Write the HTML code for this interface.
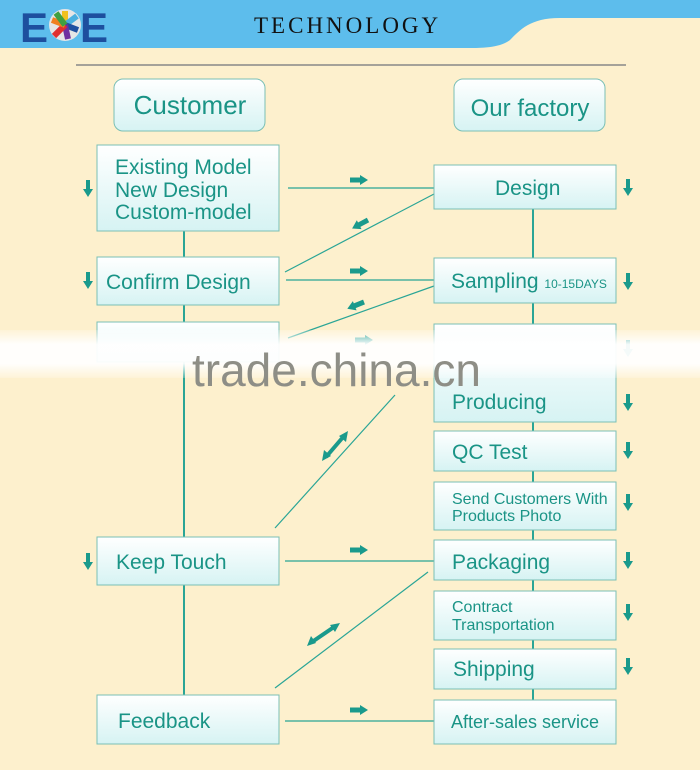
<!DOCTYPE html>
<html><head><meta charset="utf-8"><style>
html,body{margin:0;padding:0;width:700px;height:770px;overflow:hidden;background:#fdf0cd}
svg{display:block}
text{font-family:"Liberation Sans","DejaVu Sans",sans-serif;fill:#1a9486}
</style></head><body>
<svg width="700" height="770" viewBox="0 0 700 770" xmlns="http://www.w3.org/2000/svg">
<defs>
<linearGradient id="g" x1="0" y1="0" x2="0" y2="1"><stop offset="0" stop-color="#ffffff"/><stop offset="1" stop-color="#d6f3f3"/></linearGradient>
<linearGradient id="wm" x1="0" y1="0" x2="0" y2="1"><stop offset="0" stop-color="#fff" stop-opacity="0.2"/><stop offset="0.3" stop-color="#fff" stop-opacity="0.95"/><stop offset="0.7" stop-color="#fff" stop-opacity="0.95"/><stop offset="1" stop-color="#fff" stop-opacity="0.2"/></linearGradient>
<g id="ar"><rect x="0" y="-2.5" width="11" height="5" fill="#1a9a8c"/><polygon points="10,-5 18,0 10,5" fill="#1a9a8c"/></g>
<g id="dn"><rect x="-2" y="0" width="4" height="11" fill="#1a9a8c"/><polygon points="-5,9 5,9 0,17" fill="#1a9a8c"/></g>
</defs>
<rect width="700" height="770" fill="#fdf0cd"/>
<path d="M0 0H700V18H560C530 18 520 30 510 40C500 48 480 48 470 48H0Z" fill="#5dbdec"/>
<text x="20" y="42" style="font-size:42px;font-weight:bold;fill:#1d4f9e" textLength="25">E</text>
<circle cx="65" cy="25" r="16" fill="#e6e6e6"/>
<g stroke-width="6"><line x1="65" y1="25" x2="65" y2="11" stroke="#f0c020"/><line x1="65" y1="25" x2="77" y2="16" stroke="#4ab0e0"/><line x1="65" y1="25" x2="78" y2="30" stroke="#2050a0"/><line x1="65" y1="25" x2="68" y2="39" stroke="#7030a0"/><line x1="65" y1="25" x2="54" y2="36" stroke="#e03030"/><line x1="65" y1="25" x2="52" y2="20" stroke="#f08020"/><line x1="65" y1="25" x2="56" y2="13" stroke="#40a040"/></g>
<text x="80" y="42" style="font-size:42px;font-weight:bold;fill:#1d4f9e" textLength="25">E</text>
<text x="254" y="33" style="font-family:'Liberation Serif',serif;font-size:23px;fill:#111;letter-spacing:3px">TECHNOLOGY</text>
<line x1="76" y1="65" x2="626" y2="65" stroke="#888" stroke-width="1.5"/>
<rect x="114" y="79" width="151" height="52" rx="9" fill="url(#g)" stroke="#7abfb5"/>
<text x="190" y="114" text-anchor="middle" style="font-size:26px">Customer</text>
<rect x="454" y="79" width="151" height="52" rx="9" fill="url(#g)" stroke="#7abfb5"/>
<text x="530" y="116" text-anchor="middle" style="font-size:24px">Our factory</text>
<g stroke="#2aa596" stroke-width="2"><line x1="184" y1="231" x2="184" y2="695"/><line x1="533" y1="209" x2="533" y2="700"/></g>
<g stroke="#2aa596" stroke-width="1.2">
<line x1="288" y1="188" x2="434" y2="188"/><line x1="434" y1="194" x2="285" y2="272"/>
<line x1="286" y1="280" x2="434" y2="280"/><line x1="434" y1="286" x2="288" y2="338"/>
<line x1="275" y1="528" x2="395" y2="395"/><line x1="285" y1="561" x2="434" y2="561"/>
<line x1="275" y1="688" x2="428" y2="572"/><line x1="285" y1="721" x2="434" y2="721"/>
</g>
<g fill="url(#g)" stroke="#7abfb5">
<rect x="97" y="145" width="182" height="86"/><rect x="97" y="257" width="182" height="48"/><rect x="97" y="322" width="182" height="40"/>
<rect x="97" y="537" width="182" height="48"/><rect x="97" y="695" width="182" height="49"/>
<rect x="434" y="165" width="182" height="44"/><rect x="434" y="258" width="182" height="45"/><rect x="434" y="324" width="182" height="98"/>
<rect x="434" y="431" width="182" height="40"/><rect x="434" y="482" width="182" height="48"/><rect x="434" y="540" width="182" height="40"/>
<rect x="434" y="591" width="182" height="49"/><rect x="434" y="649" width="182" height="40"/><rect x="434" y="700" width="182" height="44"/>
</g>
<g style="font-size:21px">
<text x="115" y="174">Existing Model</text><text x="115" y="197">New Design</text><text x="115" y="219">Custom-model</text>
<text x="106" y="289">Confirm Design</text><text x="116" y="569">Keep Touch</text><text x="118" y="728">Feedback</text>
<text x="495" y="195">Design</text><text x="451" y="288">Sampling <tspan style="font-size:12px">10-15DAYS</tspan></text>
<text x="452" y="409">Producing</text><text x="452" y="459">QC Test</text><text x="452" y="569">Packaging</text>
<text x="453" y="676">Shipping</text>
</g>
<g style="font-size:16px"><text x="452" y="504">Send Customers With</text><text x="452" y="521">Products Photo</text>
<text x="452" y="612">Contract</text><text x="452" y="630">Transportation</text><text x="451" y="728" style="font-size:18px">After-sales service</text></g>
<use href="#ar" x="350" y="180"/><use href="#ar" x="350" y="271"/><use href="#ar" x="350" y="550"/><use href="#ar" x="350" y="710"/><use href="#ar" x="355" y="340"/>
<use href="#ar" transform="translate(368,220) rotate(152)"/><use href="#ar" transform="translate(364,302) rotate(158)"/>
<g stroke="#1a9a8c" stroke-width="4"><line x1="326" y1="457" x2="344" y2="436"/><line x1="312" y1="642" x2="334" y2="627"/></g>
<polygon points="322,461 324,450 331,456" fill="#1a9a8c"/><polygon points="348,431 339,436 346,442" fill="#1a9a8c"/>
<polygon points="307,646 311,636 316,643" fill="#1a9a8c"/><polygon points="340,623 330,625 335,632" fill="#1a9a8c"/>
<use href="#dn" x="88" y="180"/><use href="#dn" x="88" y="272"/><use href="#dn" x="88" y="553"/>
<use href="#dn" x="628" y="179"/><use href="#dn" x="628" y="273"/><use href="#dn" x="628" y="340"/><use href="#dn" x="628" y="394"/><use href="#dn" x="628" y="442"/><use href="#dn" x="628" y="494"/><use href="#dn" x="628" y="552"/><use href="#dn" x="628" y="604"/><use href="#dn" x="628" y="658"/>
<rect x="0" y="330" width="700" height="48" fill="url(#wm)"/>
<text x="192" y="386" style="font-size:46px;fill:#8e8e86">trade.china.cn</text>
</svg>
</body></html>
